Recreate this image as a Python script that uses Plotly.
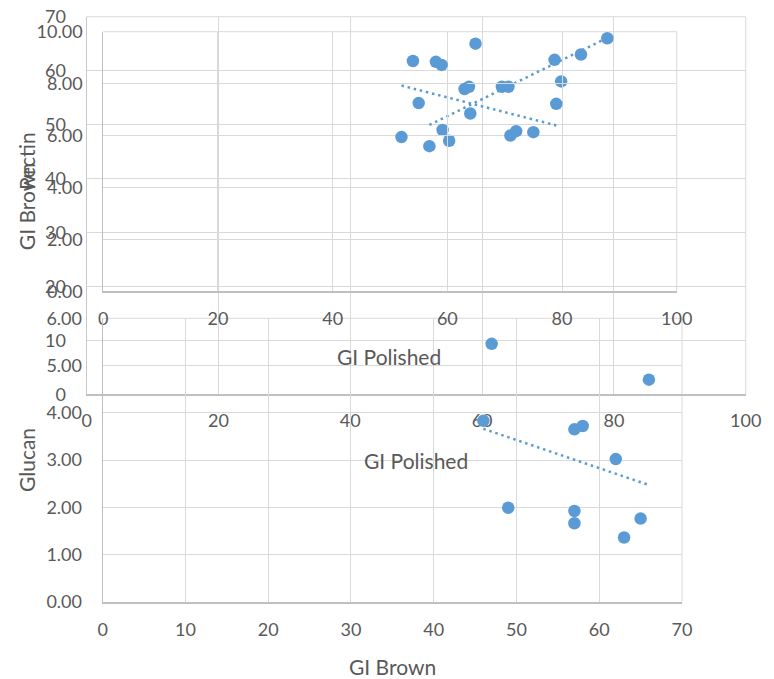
import numpy as np
import plotly.graph_objects as go

W, H = 774, 679

# Chart 1: GI Brown vs GI Polished
gi_polished_1 = [52, 55, 54, 58, 63, 64, 72, 71, 75, 59, 79]
gi_brown_1 = [46, 47, 49, 57, 57, 57, 58, 62, 63, 65, 66]

# Chart 2: Pectin vs GI Polished
gi_polished_2 = [54, 55, 52, 64, 71, 72, 75, 79, 58, 59, 63]
pectin = [8.87, 7.25, 5.94, 6.85, 6.00, 6.17, 6.13, 7.22, 8.84, 8.72, 7.79]

# Chart 3: Glucan vs GI Brown
gi_brown_3 = [46, 47, 49, 57, 57, 57, 58, 62, 63, 65, 66]
glucan = [3.83, 5.46, 1.99, 3.65, 1.92, 1.66, 3.72, 3.02, 1.36, 1.76, 4.70]

BLUE = "#5B9BD5"
GRID = "#D9D9D9"
AXL = "#BFBFBF"
TXT = "#595959"
FONT = "Lato"
TICK_SIZE = 18
TITLE_SIZE = 21


def px_x(a, b):
    return [a / W, b / W]


def px_y(top, bottom):
    return [1 - bottom / H, 1 - top / H]


def trend(x, y):
    k, b = np.polyfit(x, y, 1)
    xs = [min(x), max(x)]
    return xs, [k * v + b for v in xs]


fig = go.Figure()

series = [
    (gi_polished_1, gi_brown_1, "x", "y"),
    (gi_polished_2, pectin, "x2", "y2"),
    (gi_brown_3, glucan, "x3", "y3"),
]
for xv, yv, xa, ya in series:
    fig.add_trace(go.Scatter(x=xv, y=yv, mode="markers", xaxis=xa, yaxis=ya,
                             marker=dict(color=BLUE, size=12.5, line=dict(width=0)),
                             showlegend=False, hoverinfo="skip"))
    tx, ty = trend(xv, yv)
    fig.add_trace(go.Scatter(x=tx, y=ty, mode="lines", xaxis=xa, yaxis=ya,
                             line=dict(color=BLUE, width=2.5, dash="2.5px,3.8px"),
                             showlegend=False, hoverinfo="skip"))

common = dict(showgrid=True, gridcolor=GRID, gridwidth=1, zeroline=False,
              ticks="", tickfont=dict(family=FONT, size=TICK_SIZE, color=TXT),
              fixedrange=True, automargin=False)

layout_axes = dict(
    xaxis=dict(domain=px_x(86.7, 745.7), range=[0, 100], dtick=20, tick0=0,
               anchor="y", showline=True, linecolor=AXL, linewidth=1.5,
               ticklabelstandoff=9, **common),
    yaxis=dict(domain=px_y(16.7, 394.3), range=[0, 70], dtick=10, tick0=0,
               anchor="x", showline=True, linecolor="#C8C8C8", linewidth=1.2,
               ticklabelstandoff=16, **common),
    xaxis2=dict(domain=px_x(103.3, 676.7), range=[0, 100], dtick=20, tick0=0,
                anchor="y2", showline=True, linecolor=AXL, linewidth=1.5,
                ticklabelstandoff=10, **common),
    yaxis2=dict(domain=px_y(31.7, 291.3), range=[0, 10], dtick=2, tick0=0,
                tickformat=".2f", anchor="x2", showline=True, linecolor=AXL,
                linewidth=1.2, ticklabelstandoff=16, **common),
    xaxis3=dict(domain=px_x(102.7, 682.0), range=[0, 70], dtick=10, tick0=0,
                anchor="y3", showline=True, linecolor=AXL, linewidth=1.5,
                ticklabelstandoff=11, **common),
    yaxis3=dict(domain=px_y(318.3, 601.7), range=[0, 6], dtick=1, tick0=0,
                tickformat=".2f", anchor="x3", showline=True, linecolor=AXL,
                linewidth=1.2, ticklabelstandoff=16, **common),
)

# top and right frame gridlines (plotly omits gridlines at the range ends)
shapes = []
for xs, ys in [("x", "y"), ("x2", "y2"), ("x3", "y3")]:
    xr, yr = ("x" if xs == "x" else xs) + " domain", ("y" if ys == "y" else ys) + " domain"
    shapes.append(dict(type="line", xref=xr, yref=yr, x0=0, x1=1, y0=1, y1=1,
                       line=dict(color=GRID, width=1), layer="below"))
    shapes.append(dict(type="line", xref=xr, yref=yr, x0=1, x1=1, y0=0, y1=1,
                       line=dict(color=GRID, width=1), layer="below"))

titles = [
    ("GI Brown", 26.7, 206.5, -90),
    ("Pectin", 26.7, 161.4, -90),
    ("Glucan", 26.0, 460.0, -90),
    ("GI Polished", 389.2, 356.7, 0),
    ("GI Polished", 415.8, 460.0, 0),
    ("GI Brown", 392.2, 666.7, 0),
]
annotations = [
    dict(text=t, x=x / W, y=1 - y / H, xref="paper", yref="paper",
         xanchor="center", yanchor="middle", showarrow=False, textangle=a,
         font=dict(family=FONT, size=TITLE_SIZE, color=TXT))
    for t, x, y, a in titles
]

fig.update_layout(
    template="none",
    width=W, height=H, margin=dict(l=0, r=0, t=0, b=0, autoexpand=False),
    paper_bgcolor="white", plot_bgcolor="rgba(0,0,0,0)",
    font=dict(family=FONT, color=TXT),
    annotations=annotations,
    shapes=shapes,
    **layout_axes,
)

fig.write_html("out.html", config={"displayModeBar": False},
               post_script="document.body.style.margin='0px';"
                           "document.body.style.overflow='hidden';")
